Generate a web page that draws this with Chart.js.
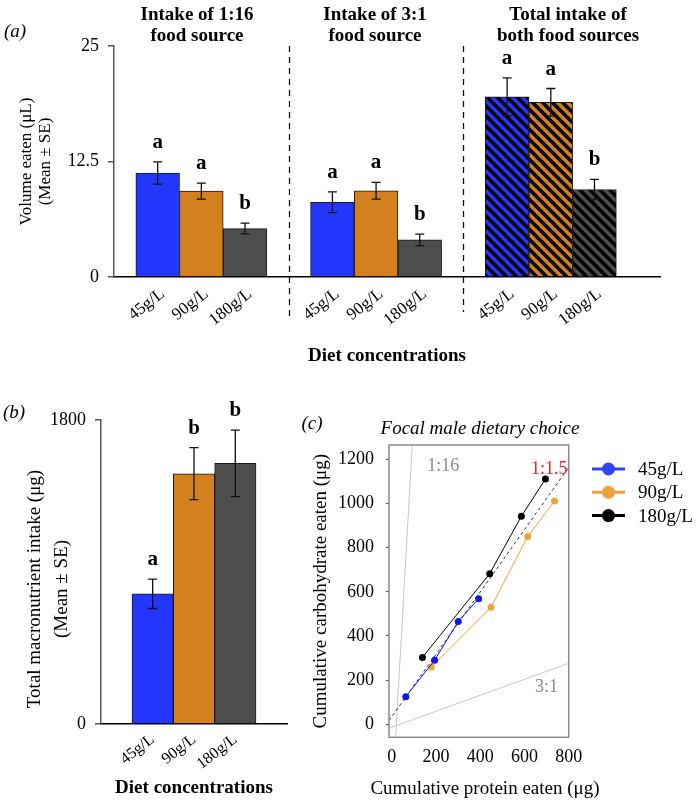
<!DOCTYPE html>
<html>
<head>
<meta charset="utf-8">
<script src="https://cdn.jsdelivr.net/npm/chart.js@4.4.1/dist/chart.umd.min.js"></script>
<style>
  body { margin: 0; background: #fff; }
  #page { position: relative; width: 697px; height: 802px; overflow: hidden;
          font-family: "Liberation Serif", "Times New Roman", serif; color: #000; }
  canvas { position: absolute; }
  .txt { position: absolute; white-space: nowrap; transform: translate(-50%, -50%); text-align: center; }
  .panel { font-style: italic; font-size: 19px; }
  .head { font-weight: bold; font-size: 19px; line-height: 21px; }
</style>
</head>
<body>
<div id="page">
  <canvas id="chartA" width="697" height="380" style="left:0;top:0;width:697px;height:380px"></canvas>
  <canvas id="chartB" width="300" height="422" style="left:0;top:380px;width:300px;height:422px"></canvas>
  <canvas id="chartC" width="397" height="422" style="left:300px;top:380px;width:397px;height:422px"></canvas>

  <div class="txt panel" style="left:15px;top:31px">(a)</div>
  <div class="txt head" style="left:197px;top:24px">Intake of 1:16<br>food source</div>
  <div class="txt head" style="left:375px;top:24px">Intake of 3:1<br>food source</div>
  <div class="txt head" style="left:568px;top:24px">Total intake of<br>both food sources</div>

  <div class="txt panel" style="left:14px;top:412px">(b)</div>
  <div class="txt" style="left:47px;top:589px;font-size:19px;line-height:27px;transform:translate(-50%,-50%) rotate(-90deg)">Total macronutrient intake (μg)<br>(Mean ± SE)</div>

  <div class="txt panel" style="left:312px;top:423px">(c)</div>
  <div class="txt panel" style="left:480px;top:428px">Focal male dietary choice</div>
  <div class="txt" style="left:485px;top:788px;font-size:19px">Cumulative protein eaten (μg)</div>
</div>
<script>
// Panel (a): volume eaten per food source
const dietLabels = ['45g/L', '90g/L', '180g/L'];
const volumeTicks = [0, 12.5, 25];
const intake116 = [11.25, 9.29, 5.24];
const intake116SE = [1.2, 0.86, 0.58];
const letters116 = ['a', 'a', 'b'];
const intake31 = [8.09, 9.33, 4.01];
const intake31SE = [1.13, 0.9, 0.62];
const letters31 = ['a', 'a', 'b'];
const intakeTotal = [19.5, 18.9, 9.47];
const intakeTotalSE = [2.05, 1.5, 1.1];
const lettersTotal = ['a', 'a', 'b'];

// Panel (b): total macronutrient intake
const macroTicks = [0, 1800];
const macroIntake = [771, 1482, 1543];
const macroSE = [87, 154, 197];
const macroLetters = ['a', 'b', 'b'];

// Panel (c): cumulative intake trajectories
const proteinTicks = [0, 200, 400, 600, 800];
const carbTicks = [0, 200, 400, 600, 800, 1000, 1200];
const protein45 = [64, 194, 301, 393];
const carb45 = [125, 290, 466, 569];
const protein90 = [179, 449, 615, 736];
const carb90 = [259, 530, 851, 1011];
const protein180 = [139, 443, 586, 695];
const carb180 = [303, 682, 942, 1111];

// nutrient rails: [protein, carbohydrate] ends
const rail116 = [[18, -59], [93, 1265]];
const rail31 = [[-12, -18], [800, 276]];
const rail15 = [[-12, 17], [800, 1164]];
const railLabels = [
  { text: '1:16', x: 233, y: 1170, color: '#8c8c8c' },
  { text: '1:1.5', x: 712, y: 1156, color: '#e3262d' },
  { text: '3:1', x: 700, y: 169, color: '#8c8c8c' }
];

const dietColors = ['#2236fc', '#d5801f', '#4d4d4d'];
const lineColors = ['#1414f0', '#efa437', '#000000'];

Chart.defaults.font.family = '"Liberation Serif", "Times New Roman", serif';
Chart.defaults.color = '#000';

// diagonal hatch for the "total" bars
function makeHatch(color) {
  const s = 10;
  const c = document.createElement('canvas');
  c.width = s; c.height = s;
  const g = c.getContext('2d');
  g.fillStyle = color;
  g.fillRect(0, 0, s, s);
  g.strokeStyle = '#000';
  g.lineWidth = 3.6;
  g.beginPath();
  for (let k = -1; k <= 1; k++) {
    g.moveTo(k * s - 1, -1);
    g.lineTo(k * s + s + 1, s + 1);
  }
  g.stroke();
  return g.createPattern(c, 'repeat');
}

// error bars + significance letters
const errorBars = {
  id: 'errorBars',
  afterDatasetsDraw(chart) {
    const ctx = chart.ctx;
    const y = chart.scales.y;
    chart.data.datasets.forEach((ds, di) => {
      if (!ds.errors) return;
      chart.getDatasetMeta(di).data.forEach((bar, i) => {
        const v = ds.data[i].y;
        const top = y.getPixelForValue(v + ds.errors[i]);
        const bot = y.getPixelForValue(v - ds.errors[i]);
        ctx.save();
        ctx.strokeStyle = '#111';
        ctx.lineWidth = 1.3;
        ctx.beginPath();
        ctx.moveTo(bar.x, top); ctx.lineTo(bar.x, bot);
        ctx.moveTo(bar.x - 4.5, top); ctx.lineTo(bar.x + 4.5, top);
        ctx.moveTo(bar.x - 4.5, bot); ctx.lineTo(bar.x + 4.5, bot);
        ctx.stroke();
        ctx.fillStyle = '#000';
        ctx.font = 'bold 21px "Liberation Serif"';
        ctx.textAlign = 'center';
        ctx.textBaseline = 'alphabetic';
        ctx.fillText(ds.letters[i], bar.x, top - 14);
        ctx.restore();
      });
    });
  }
};

// dashed separators between the three groups of panel (a)
const separators = {
  id: 'separators',
  afterDraw(chart) {
    const ctx = chart.ctx;
    const x = chart.scales.x;
    const area = chart.chartArea;
    [[4, 43], [8, 35]].forEach(([v, below]) => {
      const px = Math.round(x.getPixelForValue(v)) + 0.5;
      ctx.save();
      ctx.strokeStyle = '#111';
      ctx.lineWidth = 1.3;
      ctx.setLineDash([6, 5]);
      ctx.beginPath();
      ctx.moveTo(px, area.top);
      ctx.lineTo(px, area.bottom + below);
      ctx.stroke();
      ctx.restore();
    });
  }
};

function groupData(values, g) {
  return values.map((v, i) => ({ x: g * 4 + i + 1, y: v }));
}

const hatch = dietColors.map(makeHatch);

new Chart(document.getElementById('chartA'), {
  type: 'bar',
  data: {
    datasets: [
      { data: groupData(intake116, 0), errors: intake116SE, letters: letters116, backgroundColor: dietColors },
      { data: groupData(intake31, 1), errors: intake31SE, letters: letters31, backgroundColor: dietColors },
      { data: groupData(intakeTotal, 2), errors: intakeTotalSE, letters: lettersTotal, backgroundColor: hatch }
    ]
  },
  options: {
    responsive: false,
    animation: false,
    events: [],
    layout: { padding: { left: 0, top: 46, right: 37, bottom: 0 } },
    datasets: { bar: { grouped: false, barPercentage: 1, categoryPercentage: 1, borderWidth: 1, borderColor: '#1a1a1a' } },
    plugins: { legend: { display: false }, tooltip: { enabled: false } },
    scales: {
      x: {
        type: 'linear', min: 0, max: 12.5, offset: false,
        afterBuildTicks: s => { s.ticks = [0, 1, 2].flatMap(g => dietLabels.map((_, i) => ({ value: g * 4 + i + 1 }))); },
        afterFit: s => { s.height = 103; },
        grid: { display: false, drawTicks: false },
        border: { color: '#000', width: 1.5 },
        ticks: { autoSkip: false, minRotation: 38, maxRotation: 38, padding: 7, labelOffset: 5, font: { size: 17 },
                 callback: (v, i) => dietLabels[i % 3] },
        title: { display: true, text: 'Diet concentrations', font: { size: 19, weight: 'bold' }, padding: { top: 0, bottom: 12.6 } }
      },
      y: {
        min: 0, max: 25,
        afterBuildTicks: s => { s.ticks = volumeTicks.map(v => ({ value: v })); },
        afterFit: s => { s.width = 114; },
        grid: { drawOnChartArea: false, tickLength: 6, color: '#555', lineWidth: 1.5 },
        border: { color: '#555', width: 1.5 },
        ticks: { padding: 9, font: { size: 18 }, callback: v => String(v) },
        title: { display: true, text: ['Volume eaten (μL)', '(Mean ± SE)'], font: { size: 17, lineHeight: '19px' }, padding: { top: 17 } }
      }
    }
  },
  plugins: [errorBars, separators]
});

new Chart(document.getElementById('chartB'), {
  type: 'bar',
  data: {
    datasets: [
      { data: macroIntake.map((v, i) => ({ x: i + 1, y: v })), errors: macroSE, letters: macroLetters, backgroundColor: dietColors }
    ]
  },
  options: {
    responsive: false,
    animation: false,
    events: [],
    layout: { padding: { left: 0, top: 40, right: 13, bottom: 0 } },
    datasets: { bar: { barPercentage: 1, categoryPercentage: 1, borderWidth: 1, borderColor: '#1a1a1a' } },
    plugins: { legend: { display: false }, tooltip: { enabled: false } },
    scales: {
      x: {
        type: 'linear', min: -0.25, max: 4.25, offset: false,
        afterBuildTicks: s => { s.ticks = dietLabels.map((_, i) => ({ value: i + 1 })); },
        afterFit: s => { s.height = 78; },
        grid: { display: false, drawTicks: false },
        border: { color: '#000', width: 1.5 },
        ticks: { autoSkip: false, minRotation: 38, maxRotation: 38, padding: 6, font: { size: 16 },
                 callback: (v, i) => dietLabels[i] },
        title: { display: true, text: 'Diet concentrations', font: { size: 19, weight: 'bold' }, padding: { top: 0, bottom: 2.6 } }
      },
      y: {
        min: 0, max: 1800,
        afterBuildTicks: s => { s.ticks = macroTicks.map(v => ({ value: v })); },
        afterFit: s => { s.width = 101; },
        grid: { drawOnChartArea: false, tickLength: 6, color: '#555', lineWidth: 1.5 },
        border: { color: '#555', width: 1.5 },
        ticks: { padding: 9, font: { size: 18 }, callback: v => String(v) }
      }
    }
  },
  plugins: [errorBars]
});

// frame, rail labels and legend of panel (c)
const panelC = {
  id: 'panelC',
  afterDatasetsDraw(chart) {
    const ctx = chart.ctx;
    const a = chart.chartArea;
    const { x, y } = chart.scales;
    ctx.save();
    ctx.strokeStyle = '#8a8a8a';
    ctx.lineWidth = 1.5;
    ctx.strokeRect(a.left, a.top, a.right - a.left, a.bottom - a.top);
    ctx.font = '18px "Liberation Serif"';
    ctx.textAlign = 'center';
    ctx.textBaseline = 'middle';
    railLabels.forEach(l => {
      ctx.fillStyle = l.color;
      ctx.fillText(l.text, x.getPixelForValue(l.x), y.getPixelForValue(l.y));
    });
    ctx.restore();
  },
  afterDraw(chart) {
    const ctx = chart.ctx;
    ctx.save();
    chart.data.datasets.filter(d => d.label).forEach((d, i) => {
      const ly = 89 + i * 23.3;
      ctx.strokeStyle = d.legendColor;
      ctx.fillStyle = d.legendColor;
      ctx.lineWidth = 3;
      ctx.beginPath();
      ctx.moveTo(292, ly); ctx.lineTo(325, ly);
      ctx.stroke();
      ctx.beginPath();
      ctx.arc(308.5, ly, 6.5, 0, Math.PI * 2);
      ctx.fill();
      ctx.fillStyle = '#000';
      ctx.font = '19px "Liberation Serif"';
      ctx.textAlign = 'left';
      ctx.textBaseline = 'middle';
      ctx.fillText(d.label, 338, ly + 1);
    });
    ctx.restore();
  }
};

function pairs(px, cy) {
  return px.map((p, i) => ({ x: p, y: cy[i] }));
}
function railData(r) {
  return r.map(([p, c]) => ({ x: p, y: c }));
}

new Chart(document.getElementById('chartC'), {
  type: 'scatter',
  data: {
    datasets: [
      { label: '45g/L', data: pairs(protein45, carb45), borderColor: lineColors[0], backgroundColor: lineColors[0], legendColor: '#2f45f0', order: 1 },
      { label: '90g/L', data: pairs(protein90, carb90), borderColor: lineColors[1], backgroundColor: lineColors[1], legendColor: '#eda23f', order: 3 },
      { label: '180g/L', data: pairs(protein180, carb180), borderColor: lineColors[2], backgroundColor: lineColors[2], legendColor: '#000', order: 2 },
      { data: railData(rail15), borderColor: '#333', borderDash: [3, 3], pointRadius: 0, order: 4 },
      { data: railData(rail116), borderColor: '#c8c8c8', pointRadius: 0, order: 5 },
      { data: railData(rail31), borderColor: '#c8c8c8', pointRadius: 0, order: 6 }
    ]
  },
  options: {
    responsive: false,
    animation: false,
    events: [],
    layout: { padding: { left: 0, top: 65, right: 128.3, bottom: 0 } },
    datasets: { scatter: { showLine: true, borderWidth: 1, pointRadius: 3.5, pointBorderWidth: 0 } },
    plugins: { legend: { display: false }, tooltip: { enabled: false } },
    scales: {
      x: {
        min: -12, max: 800,
        afterBuildTicks: s => { s.ticks = proteinTicks.map(v => ({ value: v })); },
        afterFit: s => { s.height = 64.7; },
        grid: { display: false, drawTicks: false },
        border: { display: false },
        ticks: { padding: 9, font: { size: 18 }, callback: v => String(v) }
      },
      y: {
        min: -59, max: 1265,
        afterBuildTicks: s => { s.ticks = carbTicks.map(v => ({ value: v })); },
        afterFit: s => { s.width = 89; },
        grid: { drawOnChartArea: false, tickLength: 3, color: '#555' },
        border: { display: false },
        ticks: { padding: 12, font: { size: 18 }, callback: v => String(v) },
        title: { display: true, text: 'Cumulative carbohydrate eaten (μg)', font: { size: 19 }, padding: { top: 9.6 } }
      }
    }
  },
  plugins: [panelC]
});
</script>
</body>
</html>
